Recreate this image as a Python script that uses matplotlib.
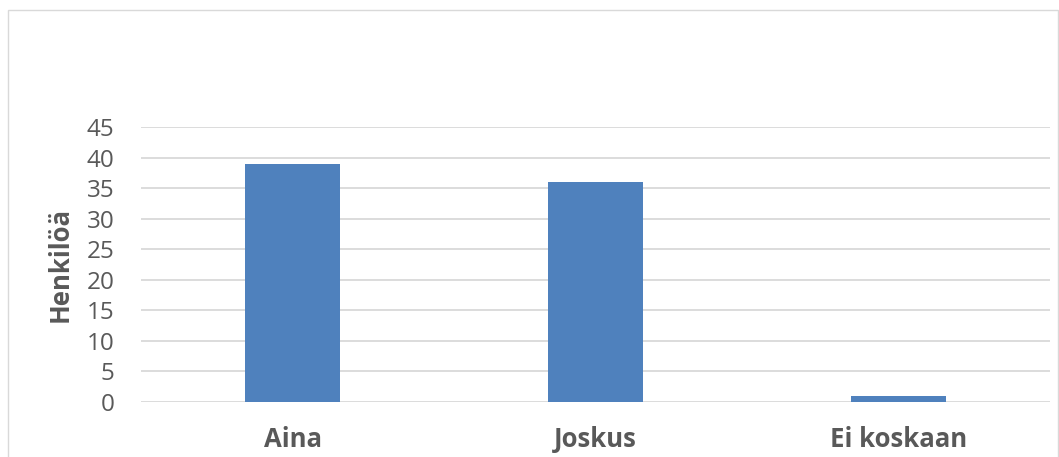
import matplotlib.pyplot as plt
from matplotlib.patches import Rectangle

categories = ['Aina', 'Joskus', 'Ei koskaan']
values = [39, 36, 1]
yticks = [0, 5, 10, 15, 20, 25, 30, 35, 40, 45]

plt.rcParams['font.family'] = ['Open Sans', 'DejaVu Sans']
text_col = '#595959'

fig = plt.figure(figsize=(10.59, 4.57), dpi=100)
ax = fig.add_axes([141/1059, 1 - 402/457, 909/1059, 275/457])

x = range(len(categories))
ax.bar(x, values, width=0.314, color='#4F81BD', zorder=3)

ax.set_xlim(-0.5, len(categories) - 0.5)
ax.set_ylim(0, 45)
ax.set_yticks(yticks)
ax.set_xticks(list(x))
ax.set_xticklabels(categories, fontsize=18.5, fontweight='bold', color=text_col)
ax.tick_params(axis='y', length=0, pad=19, labelsize=17.5, labelcolor=text_col)
ax.tick_params(axis='x', length=0, pad=17)
ax.grid(axis='y', color='#D9D9D9', linewidth=1.3, zorder=0)
for s in ax.spines.values():
    s.set_visible(False)

fig.text(60/1059, 1 - 265/457, 'Henkilöä', rotation=90, ha='center', va='center',
         fontsize=18.5, fontweight='bold', color=text_col)

# chart border
fig.patches.append(Rectangle((8/1059, -0.05), 1049.5/1059, 1.05 - 10/457, transform=fig.transFigure,
                             fill=False, edgecolor='#D9D9D9', linewidth=1))

fig.savefig('out.png', dpi=100)
